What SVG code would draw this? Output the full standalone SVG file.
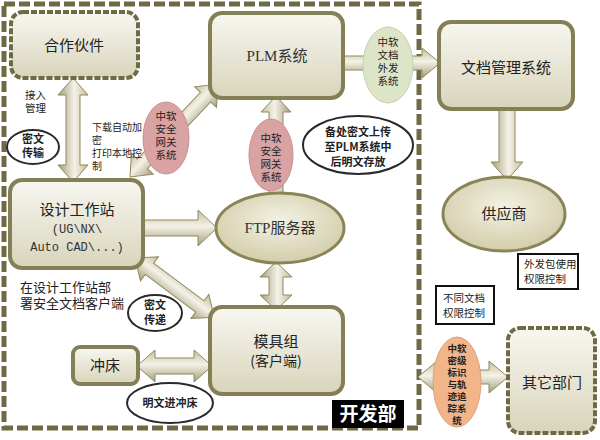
<svg xmlns="http://www.w3.org/2000/svg" width="600" height="440" viewBox="0 0 600 440">
<defs>
<linearGradient id="gNode" x1="0" y1="0" x2="0" y2="1">
<stop offset="0" stop-color="#f8f7f0"/><stop offset="1" stop-color="#d8d4bb"/>
</linearGradient>
<radialGradient id="gOval" cx="0.5" cy="0.4" r="0.6">
<stop offset="0" stop-color="#f3f1e3"/><stop offset="1" stop-color="#d3cdaa"/>
</radialGradient>
<linearGradient id="gArrow" x1="0" y1="0" x2="0" y2="1">
<stop offset="0" stop-color="#c4bd98"/><stop offset="0.45" stop-color="#f4f2e8"/><stop offset="1" stop-color="#a49d76"/>
</linearGradient>
<style>
.node{fill:url(#gNode);stroke:#857f55;stroke-width:4}
.dnode{fill:url(#gNode);stroke:#6f6a45;stroke-width:4;stroke-dasharray:6 2}
.oval{fill:url(#gOval);stroke:#8a8458;stroke-width:3}
.lbl{fill:#ffffff;stroke:#2a2a2a;stroke-width:2}
.arr{fill:url(#gArrow);stroke:#8f8862;stroke-width:1}
.t{font-family:"Noto Sans CJK SC","Noto Sans",sans-serif;fill:#222;text-anchor:middle}
.ts{font-family:"Liberation Serif","Noto Sans CJK SC",serif;fill:#333;text-anchor:middle}
.tm{font-family:"Liberation Mono","Noto Sans CJK SC",monospace;fill:#333;text-anchor:middle}
.tl{font-family:"Noto Sans CJK SC","Noto Sans",sans-serif;fill:#222}
.b{font-weight:bold}
</style>
</defs>
<rect x="0" y="0" width="600" height="440" fill="#ffffff"/>
<rect x="4" y="4" width="415" height="424" fill="none" stroke="#6e6a45" stroke-width="5" stroke-dasharray="11 4"/>

<g id="connectors">
<path class="arr" transform="translate(73,78) rotate(90)" d="M0,0 L17,-15 L17,-7 L87,-7 L87,-15 L104,0 L87,15 L87,7 L17,7 L17,15 Z"/>
<path class="arr" transform="translate(130,177) rotate(-46.6)" d="M0,0 L18,-15 L18,-7 L110,-7 L110,-15 L128,0 L110,15 L110,7 L18,7 L18,15 Z"/>
<path class="arr" transform="translate(276,198) rotate(-90)" d="M0,-7 L86,-7 L86,-15 L102,0 L86,15 L86,7 L0,7 Z"/>
<path class="arr" transform="translate(343,63)" d="M0,-7 L79,-7 L79,-15 L97,0 L79,15 L79,7 L0,7 Z"/>
<path class="arr" transform="translate(507,109) rotate(90)" d="M0,-8 L53,-8 L53,-16 L71,0 L53,16 L53,8 L0,8 Z"/>
<path class="arr" transform="translate(143,228)" d="M0,-8 L55,-8 L55,-18 L74,0 L55,18 L55,8 L0,8 Z"/>
<path class="arr" transform="translate(276,262) rotate(90)" d="M0,0 L15,-16 L15,-7 L33,-7 L33,-16 L48,0 L33,16 L33,7 L15,7 L15,16 Z"/>
<path class="arr" transform="translate(135,258) rotate(36.8)" d="M0,0 L18,-15 L18,-7 L81,-7 L81,-15 L99,0 L81,15 L81,7 L18,7 L18,15 Z"/>
<path class="arr" transform="translate(137,366)" d="M0,0 L18,-16 L18,-8 L57,-8 L57,-16 L75,0 L57,16 L57,8 L18,8 L18,16 Z"/>
<path class="arr" transform="translate(418,377)" d="M0,0 L19,-16 L19,-7 L71,-7 L71,-16 L90,0 L71,16 L71,7 L19,7 L19,16 Z"/>
</g>

<g id="partner">
<rect class="dnode" x="11" y="12" width="127" height="66" rx="12"/>
<text class="t" x="74" y="51" font-size="15">合作伙件</text>
</g>
<g id="plm">
<rect class="node" x="210" y="13" width="133" height="85" rx="12"/>
<text class="ts" x="277" y="61" font-size="15">PLM系统</text>
</g>
<g id="docmgmt">
<rect class="node" x="439" y="22" width="134" height="87" rx="12"/>
<text class="t" x="506" y="73" font-size="15">文档管理系统</text>
</g>
<g id="workstation">
<rect class="node" x="10" y="180" width="133" height="88" rx="12"/>
<text class="t" x="77" y="215" font-size="15">设计工作站</text>
<text class="tm" x="77" y="233" font-size="12">(UG\NX\</text>
<text class="tm" x="77" y="251" font-size="12">Auto CAD\...)</text>
</g>
<g id="ftp">
<ellipse class="oval" cx="280" cy="228" rx="64" ry="35"/>
<text class="ts" x="280" y="233" font-size="15">FTP服务器</text>
</g>
<g id="supplier">
<ellipse class="oval" cx="504" cy="214" rx="61" ry="37"/>
<text class="t" x="504" y="219" font-size="15">供应商</text>
</g>
<g id="mold">
<rect class="node" x="210" y="307" width="133" height="87" rx="12"/>
<text class="t" x="276" y="347" font-size="15">模具组</text>
<text class="t" x="276" y="366" font-size="14">(客户端)</text>
</g>
<g id="press">
<rect class="node" x="73" y="347" width="65" height="37" rx="7"/>
<text class="t" x="105" y="371" font-size="15">冲床</text>
</g>
<g id="otherdept">
<rect class="dnode" x="508" y="328" width="87" height="105" rx="12"/>
<text class="t" x="552" y="388" font-size="15">其它部门</text>
</g>

<g id="gateway1">
<ellipse cx="166" cy="138" rx="23" ry="36" fill="#d9a3a3" stroke="#c99090" stroke-width="1"/>
<text class="t" font-size="10.5"><tspan x="166" y="120">中软</tspan><tspan x="166" y="133">安全</tspan><tspan x="166" y="146">网关</tspan><tspan x="166" y="159">系统</tspan></text>
</g>
<g id="gateway2">
<ellipse cx="271" cy="155" rx="22" ry="36" fill="#d9a3a3" stroke="#c99090" stroke-width="1"/>
<text class="t" font-size="10.5"><tspan x="271" y="142">中软</tspan><tspan x="271" y="155">安全</tspan><tspan x="271" y="168">网关</tspan><tspan x="271" y="181">系统</tspan></text>
</g>
<g id="outsend">
<ellipse cx="388" cy="65" rx="25" ry="38" fill="#dde5c9" stroke="#c6d0ae" stroke-width="1"/>
<text class="t" font-size="10.5"><tspan x="388" y="46">中软</tspan><tspan x="388" y="59">文档</tspan><tspan x="388" y="72">外发</tspan><tspan x="388" y="85">系统</tspan></text>
</g>
<g id="tracking">
<ellipse cx="457" cy="382" rx="24" ry="45" fill="#f2b489" stroke="#e0a078" stroke-width="1"/>
<text class="t b" font-size="9.5"><tspan x="457" y="352">中软</tspan><tspan x="457" y="364">密级</tspan><tspan x="457" y="376">标识</tspan><tspan x="457" y="388">与轨</tspan><tspan x="457" y="400">迹追</tspan><tspan x="457" y="412">踪系</tspan><tspan x="457" y="424">统</tspan></text>
</g>

<g id="label-cipher1">
<ellipse class="lbl" cx="33" cy="147" rx="26" ry="17"/>
<text class="t b" font-size="11"><tspan x="33" y="143">密文</tspan><tspan x="33" y="157">传输</tspan></text>
</g>
<g id="label-upload">
<ellipse class="lbl" cx="358" cy="145" rx="55" ry="29"/>
<text class="t b" font-size="11"><tspan x="358" y="136">备处密文上传</tspan><tspan x="358" y="151">至PLM系统中</tspan><tspan x="358" y="166">后明文存放</tspan></text>
</g>
<g id="label-cipher2">
<ellipse class="lbl" cx="155" cy="313" rx="27" ry="18"/>
<text class="t b" font-size="11"><tspan x="155" y="309">密文</tspan><tspan x="155" y="324">传递</tspan></text>
</g>
<g id="label-plain">
<ellipse class="lbl" cx="170" cy="403" rx="43" ry="20"/>
<text class="t b" font-size="11" x="170" y="407">明文进冲床</text>
</g>

<g id="box-outperm">
<rect x="518" y="254" width="60" height="35" fill="#ffffff" stroke="#111" stroke-width="2"/>
<text class="tl" font-size="10.5"><tspan x="524" y="268">外发包使用</tspan><tspan x="524" y="283">权限控制</tspan></text>
</g>
<g id="box-docperm">
<rect x="436" y="286" width="58" height="38" fill="#ffffff" stroke="#111" stroke-width="2"/>
<text class="tl" font-size="10.5"><tspan x="443" y="302">不同文档</tspan><tspan x="443" y="317">权限控制</tspan></text>
</g>

<g id="notes">
<text class="tl" font-size="10.5"><tspan x="25" y="99">接入</tspan><tspan x="25" y="112">管理</tspan></text>
<text class="tl" font-size="10"><tspan x="92" y="131">下载自动加</tspan><tspan x="92" y="144">密</tspan><tspan x="92" y="157">打印本地控</tspan><tspan x="92" y="170">制</tspan></text>
<text class="tl" font-size="13"><tspan x="20" y="292">在设计工作站部</tspan><tspan x="20" y="308">署安全文档客户端</tspan></text>
</g>

<g id="dept-label">
<rect x="332" y="400" width="72" height="28" fill="#000"/>
<text class="t b" x="368" y="421" font-size="19" style="fill:#fff">开发部</text>
</g>
</svg>
